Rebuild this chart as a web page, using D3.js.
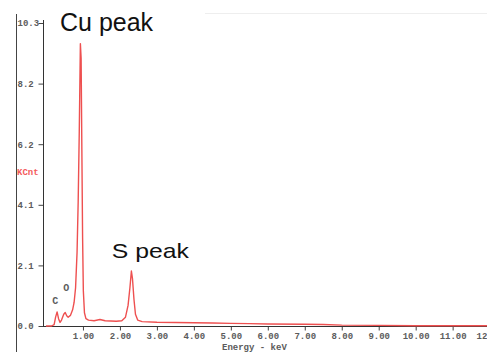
<!DOCTYPE html>
<html>
<head>
<meta charset="utf-8">
<script src="https://cdn.jsdelivr.net/npm/d3@7"></script>
<style>
    body { margin: 0; background: #fff; }
    svg { display: block; }
    .tick text { font-family: "Liberation Mono", monospace; font-size: 9px; font-weight: bold; fill: #5c5c5c; }
</style>
</head>
<body>
<svg id="chart" width="487" height="352"></svg>
<script>
// EDS spectrum
const energy = [0.00, 0.15, 0.22, 0.26, 0.30, 0.34, 0.38, 0.42, 0.48, 0.52, 0.56, 0.60, 0.66, 0.72, 0.76,
    0.80, 0.84, 0.87, 0.90, 0.93, 0.95, 0.97, 0.99, 1.01, 1.04, 1.08, 1.15, 1.30, 1.46, 1.60, 1.75, 1.90,
    2.05, 2.15, 2.22, 2.27, 2.31, 2.34, 2.38, 2.42, 2.48, 2.60, 3.00, 3.50, 4.00, 4.50, 5.00, 5.50, 6.00,
    7.00, 7.50, 8.00, 9.00, 10.00, 12.20];
const counts = [0.00, 0.00, 0.05, 0.30, 0.48, 0.25, 0.12, 0.20, 0.40, 0.46, 0.35, 0.30, 0.36, 0.55, 0.80,
    1.30, 2.50, 4.20, 6.60, 9.60, 9.10, 6.00, 3.00, 1.20, 0.45, 0.25, 0.20, 0.18, 0.22, 0.18, 0.17, 0.16,
    0.18, 0.30, 0.70, 1.30, 1.87, 1.60, 0.90, 0.40, 0.20, 0.15, 0.13, 0.12, 0.11, 0.10, 0.09, 0.08, 0.07,
    0.06, 0.05, 0.03, 0.02, 0.01, 0.01];
const yTicks = [0, 2.06, 4.12, 6.18, 8.24, 10.3];
const xTicks = [1, 2, 3, 4, 5, 6, 7, 8, 9, 10, 11, 12];
const elementLabels = [{ name: 'C', e: 0.17, v: 0.75 }, { name: 'O', e: 0.47, v: 1.18 }];
const peakLabels = [
    { name: 'Cu peak', e: 0.38, v: 10.03, size: 25, len: 93 },
    { name: 'S peak', e: 1.78, v: 2.31, size: 21, len: 77 }
];

const svg = d3.select('#chart');
const x = d3.scaleLinear().domain([0, 12.2]).range([46, 497]);
const y = d3.scaleLinear().domain([0, 10.3]).range([326, 23]);

// faint frame remnants
svg.append('line').attr('x1', 205).attr('x2', 487).attr('y1', 13.5).attr('y2', 13.5)
    .attr('stroke', '#eee');
svg.append('line').attr('x1', 16.5).attr('x2', 16.5).attr('y1', 14).attr('y2', 352)
    .attr('stroke', '#444');

// y axis
const yAxis = svg.append('g').attr('transform', 'translate(43.5,0)')
    .call(d3.axisLeft(y).tickValues(yTicks).tickFormat(d3.format('.1f')).tickSize(5).tickSizeOuter(0));
yAxis.select('.domain').remove();
yAxis.selectAll('.tick line').attr('stroke', '#444');
yAxis.selectAll('.tick text').attr('text-anchor', 'start').attr('x', -26);
svg.append('line').attr('x1', 43.5).attr('x2', 43.5).attr('y1', 20).attr('y2', 327)
    .attr('stroke', '#333');

// x axis
const xAxis = svg.append('g').attr('transform', 'translate(0,326.5)')
    .call(d3.axisBottom(x).tickValues(xTicks).tickFormat(d3.format('.2f')).tickSize(4).tickSizeOuter(0));
xAxis.select('.domain').remove();
xAxis.selectAll('.tick line').attr('stroke', '#444');
xAxis.selectAll('.tick text').attr('dy', '0.6em');
svg.append('line').attr('x1', 43).attr('x2', 487).attr('y1', 326.5).attr('y2', 326.5)
    .attr('stroke', '#333');

// axis titles
svg.append('text').attr('x', 17).attr('y', 175)
    .style('font-family', '"Liberation Mono", monospace').style('font-size', '9px')
    .style('font-weight', 'bold').attr('fill', '#f45a5a').text('KCnt');
svg.append('text').attr('x', 222).attr('y', 350)
    .style('font-family', '"Liberation Mono", monospace').style('font-size', '9px')
    .style('font-weight', 'bold').attr('fill', '#5c5c5c').text('Energy - keV');

// spectrum
const line = d3.line().x(d => x(d[0])).y(d => y(d[1]));
svg.append('path')
    .datum(energy.map((e, i) => [e, counts[i]]))
    .attr('d', line)
    .attr('fill', 'none')
    .attr('stroke', '#ee5050')
    .attr('stroke-width', 1.4)
    .attr('stroke-linejoin', 'round');

// element markers
svg.selectAll('.el').data(elementLabels).enter().append('text')
    .attr('class', 'el')
    .attr('x', d => x(d.e)).attr('y', d => y(d.v))
    .style('font-family', '"Liberation Mono", monospace').style('font-size', '10px')
    .style('font-weight', 'bold').attr('fill', '#5c5c5c')
    .text(d => d.name);

// peak annotations
svg.selectAll('.peak').data(peakLabels).enter().append('text')
    .attr('class', 'peak')
    .attr('x', d => x(d.e)).attr('y', d => y(d.v))
    .attr('textLength', d => d.len).attr('lengthAdjust', 'spacingAndGlyphs')
    .style('font-family', '"Liberation Sans", Arial, sans-serif')
    .style('font-size', d => d.size + 'px')
    .attr('fill', '#111')
    .text(d => d.name);
</script>
</body>
</html>
